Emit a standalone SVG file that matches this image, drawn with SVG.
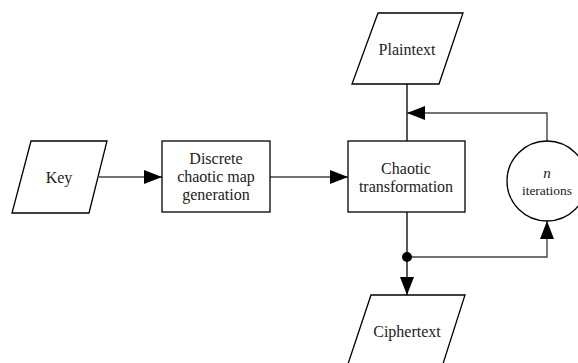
<svg xmlns="http://www.w3.org/2000/svg" width="578" height="363" viewBox="0 0 578 363">
<style>
.shape{fill:#fff;stroke:#000;stroke-width:1.3}
.conn{fill:none;stroke:#444;stroke-width:1.4}
.vconn{fill:none;stroke:#111;stroke-width:1.4}
</style>
<defs>
<marker id="ah" viewBox="0 0 18 14" refX="18" refY="7" markerWidth="18" markerHeight="14" markerUnits="userSpaceOnUse" orient="auto">
<path d="M0,0 L18,7 L0,14 Z" fill="#000"/>
</marker>
</defs>
<rect width="578" height="363" fill="#fff"/>
<g id="connectors">
<path class="conn" d="M99,177 H162" marker-end="url(#ah)"/>
<path class="conn" d="M270,177 H348" marker-end="url(#ah)"/>
<path class="vconn" d="M407,84 V141"/>
<path class="conn" d="M547,141 V113 H407" marker-end="url(#ah)"/>
<path class="vconn" d="M407,212 V295" marker-end="url(#ah)"/>
<path class="conn" d="M407,257 H547 V221" marker-end="url(#ah)"/>
<circle cx="407" cy="257" r="5" fill="#000"/>
</g>
<g id="plaintext">
<polygon class="shape" points="378,13 463,13 439,84 352,84"/>
<text x="407" y="55" font-family="'Liberation Serif', serif" font-size="16" text-anchor="middle" fill="#222">Plaintext</text>
</g>
<g id="key">
<polygon class="shape" points="31,141 107,141 89,213 12,213"/>
<text x="59" y="183" font-family="'Liberation Serif', serif" font-size="16" text-anchor="middle" fill="#222">Key</text>
</g>
<g id="dcmg">
<rect class="shape" x="162" y="141" width="108" height="71"/>
<text x="216" y="164" font-family="'Liberation Serif', serif" font-size="16" text-anchor="middle" fill="#222">Discrete</text>
<text x="216" y="182" font-family="'Liberation Serif', serif" font-size="16" text-anchor="middle" fill="#222">chaotic map</text>
<text x="216" y="200" font-family="'Liberation Serif', serif" font-size="16" text-anchor="middle" fill="#222">generation</text>
</g>
<g id="chaotic">
<rect class="shape" x="348" y="141" width="117" height="71"/>
<text x="406" y="174" font-family="'Liberation Serif', serif" font-size="16" text-anchor="middle" fill="#222">Chaotic</text>
<text x="406" y="192" font-family="'Liberation Serif', serif" font-size="16" text-anchor="middle" fill="#222">transformation</text>
</g>
<g id="iterations">
<circle class="shape" cx="547" cy="181" r="40"/>
<text x="547" y="178" font-family="'Liberation Serif', serif" font-size="15" font-style="italic" text-anchor="middle" fill="#222">n</text>
<text x="547" y="195" font-family="'Liberation Serif', serif" font-size="13.5" text-anchor="middle" fill="#222">iterations</text>
</g>
<g id="ciphertext">
<polygon class="shape" points="371,295 465,295 441,370 346,370"/>
<text x="407" y="337" font-family="'Liberation Serif', serif" font-size="16" text-anchor="middle" fill="#222">Ciphertext</text>
</g>
</svg>
